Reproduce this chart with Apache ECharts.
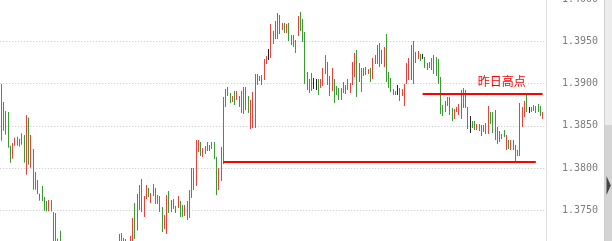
<!DOCTYPE html>
<html>
<head>
<meta charset="utf-8">
<script src="https://cdn.jsdelivr.net/npm/echarts@6/dist/echarts.min.js"></script>
<style>
html,body{margin:0;padding:0;background:#fff;}
#chart{width:612px;height:241px;}
</style>
</head>
<body>
<div id="chart"></div>
<script>
// ---- data ----
var highs = [
1.38995,1.38782,1.38675,1.38663,1.38265,1.38296,1.38359,1.38371,1.38347,1.38411,
1.38391,1.38628,1.38596,1.38391,1.38225,1.37953,1.37859,1.37697,1.37788,1.37657,
1.37610,1.37622,1.37622,1.37480,1.37468,1.37164,1.37259,1.37125,1.37095,1.37110,
1.37080,1.37060,1.37090,1.37070,1.37050,1.37085,1.37100,1.37075,1.37060,1.37080,
1.37095,1.37110,1.37090,1.37070,1.37085,1.37100,1.37115,1.37090,1.37075,1.37095,
1.37110,1.37120,1.37220,1.37231,1.37172,1.37160,1.37100,1.37196,1.37409,1.37586,
1.37693,1.37799,1.37870,1.37669,1.37799,1.37764,1.37705,1.37811,1.37764,1.37681,
1.37669,1.37539,1.37444,1.37681,1.37728,1.37622,1.37634,1.37551,1.37669,1.37610,
1.37563,1.37563,1.37610,1.37740,1.38001,1.38001,1.38332,1.38332,1.38308,1.38237,
1.38261,1.38308,1.38273,1.38308,1.38308,1.38131,1.38001,1.38249,1.38841,1.38935,
1.38959,1.38888,1.38853,1.38912,1.38912,1.38853,1.38912,1.38959,1.38959,1.38853,
1.38805,1.38900,1.39113,1.39113,1.39089,1.39101,1.39291,1.39326,1.39409,1.39705,
1.39622,1.39740,1.39835,1.39811,1.39717,1.39717,1.39705,1.39717,1.39575,1.39575,
1.39515,1.39799,1.39847,1.39764,1.39610,1.39137,1.39054,1.39125,1.39066,1.39054,
1.39054,1.39054,1.39184,1.39338,1.39255,1.39089,1.39184,1.39054,1.38971,1.38947,
1.38947,1.39018,1.38983,1.39054,1.39007,1.39255,1.39362,1.39397,1.39243,1.39184,
1.39184,1.39196,1.39172,1.39184,1.39302,1.39338,1.39456,1.39480,1.39397,1.39433,
1.39586,1.39137,1.39066,1.38935,1.38912,1.38983,1.38947,1.38935,1.38995,1.39243,
1.39302,1.39456,1.39504,1.39373,1.39385,1.39350,1.39350,1.39314,1.39243,1.39255,
1.39302,1.39338,1.39314,1.39291,1.39078,1.38746,1.38794,1.38841,1.38841,1.38711,
1.38699,1.38723,1.38758,1.38924,1.38947,1.38924,1.38723,1.38616,1.38557,1.38557,
1.38521,1.38521,1.38509,1.38509,1.38533,1.38734,1.38663,1.38663,1.38687,1.38486,
1.38438,1.38403,1.38450,1.38391,1.38332,1.38332,1.38332,1.38273,1.38214,1.38770,
1.38723,1.38794,1.38865,1.38723,1.38723,1.38746,1.38734,1.38758,1.38734,1.38663
];
var lows = [
1.38324,1.38442,1.38395,1.38241,1.38064,1.38111,1.38265,1.38265,1.38253,1.38277,
1.38064,1.37922,1.38040,1.38004,1.37744,1.37744,1.37693,1.37614,1.37607,1.37495,
1.37488,1.37488,1.37488,1.37060,1.37050,1.37060,1.37070,1.37045,1.37030,1.37040,
1.37020,1.37010,1.37030,1.37015,1.37005,1.37020,1.37040,1.37025,1.37010,1.37030,
1.37045,1.37050,1.37035,1.37020,1.37030,1.37045,1.37055,1.37040,1.37025,1.37040,
1.37050,1.37060,1.37080,1.37070,1.37090,1.37080,1.37040,1.37070,1.37110,1.37160,
1.37259,1.37504,1.37480,1.37421,1.37634,1.37657,1.37586,1.37669,1.37575,1.37575,
1.37480,1.37243,1.37279,1.37220,1.37468,1.37480,1.37515,1.37468,1.37527,1.37421,
1.37421,1.37433,1.37385,1.37409,1.37646,1.37740,1.37788,1.38190,1.38143,1.38131,
1.38166,1.38202,1.38202,1.38225,1.38107,1.37681,1.37740,1.37847,1.38048,1.38723,
1.38853,1.38770,1.38782,1.38746,1.38805,1.38723,1.38652,1.38640,1.38687,1.38652,
1.38462,1.38474,1.38474,1.38983,1.39030,1.38983,1.39042,1.39231,1.39279,1.39302,
1.39468,1.39527,1.39527,1.39586,1.39634,1.39598,1.39598,1.39504,1.39456,1.39433,
1.39362,1.39563,1.39622,1.39492,1.38995,1.38924,1.38888,1.38912,1.38935,1.38924,
1.38865,1.38947,1.38971,1.39113,1.38983,1.38853,1.38912,1.38770,1.38865,1.38805,
1.38805,1.38888,1.38876,1.38924,1.38888,1.38983,1.39078,1.38841,1.39018,1.38900,
1.39089,1.39101,1.39113,1.39018,1.39054,1.39231,1.39231,1.39196,1.39231,1.39196,
1.39018,1.38947,1.38900,1.38865,1.38865,1.38865,1.38794,1.38853,1.38734,1.38995,
1.39042,1.39042,1.38995,1.39243,1.39291,1.39267,1.39291,1.39184,1.39160,1.39184,
1.39160,1.39113,1.39089,1.38995,1.38640,1.38616,1.38663,1.38734,1.38628,1.38557,
1.38581,1.38663,1.38628,1.38581,1.38711,1.38711,1.38462,1.38415,1.38474,1.38450,
1.38450,1.38438,1.38379,1.38427,1.38403,1.38403,1.38521,1.38415,1.38332,1.38285,
1.38308,1.38344,1.38367,1.38214,1.38225,1.38214,1.38214,1.38083,1.38143,1.38143,
1.38486,1.38604,1.38663,1.38652,1.38663,1.38675,1.38652,1.38663,1.38616,1.38581
];
// u = up (red), d = down (green), n = unchanged (black)
var dirs = (
"ududduuudu"+"dududddddd"+"dudddddudu"+"ddudduuddu"+"uudduuuddu"+
"uuududduud"+"uuduuduudd"+"dduududdud"+"duduuduudu"+"uududduuuu"+
"udududuudd"+"uuududuunu"+"ududududud"+"uudddddunn"+"duuudduddd"+
"uuduuuuddu"+"ddudududdu"+"dddudnduuu"+"udududnduu"+"uddddduudd"+
"uuuduudndd"+"uuduuudddd"+"uddududduu"+"uudnuuuddu").split("");
var barCount = 241;           // slots on the time axis (last one empty)
var yTicks = {min: 1.37, max: 1.40, step: 0.005};
var yesterdayHigh = {value: 1.38879, from: 186, to: 239, text: "昨日高点", textAt: [221, 1.39027]};
var supportLow = {value: 1.38072, from: 98, to: 236};

// ---- build ----
var categories = [];
for (var c = 0; c < barCount; c++) categories.push(String(c + 1));
var bars = highs.map(function (h, i) {
  return [i, h, lows[i], dirs[i] === 'u' ? 1 : (dirs[i] === 'd' ? -1 : 0)];
});
var colorUp = '#e8423d', colorDown = '#3b9a33', colorFlat = '#222222';

var chart = echarts.init(document.getElementById('chart'), null, {renderer: 'canvas'});
chart.setOption({
  animation: false,
  backgroundColor: '#ffffff',
  grid: {left: 0.25, right: 66, top: -0.95, bottom: -11.55, containLabel: false, outerBoundsMode: 'none'},
  xAxis: {type: 'category', data: categories, show: false, boundaryGap: true},
  yAxis: {
    type: 'value', position: 'right',
    min: yTicks.min, max: yTicks.max, interval: yTicks.step,
    axisLine: {show: true, lineStyle: {color: '#dedede', width: 1}},
    axisTick: {show: false},
    axisLabel: {
      formatter: function (v) { return v.toFixed(4); },
      color: '#7c7c7c', fontFamily: 'DejaVu Sans Mono', fontSize: 10, margin: 16
    },
    splitLine: {show: true, lineStyle: {color: '#c4c4c4', type: [1, 2], width: 1}}
  },
  series: [{
    type: 'custom',
    data: bars,
    encode: {x: 0, y: [1, 2]},
    clip: true,
    silent: true,
    renderItem: function (params, api) {
      var i = api.value(0);
      var top = api.coord([i, api.value(1)]);
      var bot = api.coord([i, api.value(2)]);
      var d = api.value(3);
      var x = Math.floor(top[0]) + 0.5;
      return {
        type: 'line',
        shape: {x1: x, y1: top[1], x2: x, y2: bot[1]},
        style: {stroke: d > 0 ? colorUp : (d < 0 ? colorDown : colorFlat), lineWidth: 1}
      };
    },
    markLine: {
      silent: true, symbol: ['none', 'none'], animation: false,
      label: {show: false},
      lineStyle: {color: '#ff0000', width: 2, type: 'solid'},
      emphasis: {disabled: true},
      data: [
        [{coord: [yesterdayHigh.from, yesterdayHigh.value]}, {coord: [yesterdayHigh.to, yesterdayHigh.value]}],
        [{coord: [supportLow.from, supportLow.value]}, {coord: [supportLow.to, supportLow.value]}]
      ]
    },
    markPoint: {
      silent: true, animation: false,
      symbol: 'rect', symbolSize: 1,
      itemStyle: {color: 'rgba(0,0,0,0)'},
      label: {
        show: true, position: 'inside', formatter: yesterdayHigh.text,
        color: '#ff0000', fontSize: 12, fontFamily: 'Noto Sans CJK SC'
      },
      data: [{coord: yesterdayHigh.textAt}]
    }
  }],
  graphic: [
    {type: 'rect', shape: {x: 604, y: 0, width: 8, height: 125}, style: {fill: '#ececec'}, silent: true},
    {type: 'rect', shape: {x: 604, y: 125, width: 8, height: 116}, style: {fill: '#d4d4d4'}, silent: true},
    {type: 'line', shape: {x1: 604.5, y1: 0, x2: 604.5, y2: 241}, style: {stroke: '#cfcfcf', lineWidth: 1}, silent: true},
    {type: 'polygon', shape: {points: [[606.5, 176], [610.8, 185.5], [606.5, 195]]}, style: {fill: '#444444'}, silent: true}
  ]
});
</script>
</body>
</html>
